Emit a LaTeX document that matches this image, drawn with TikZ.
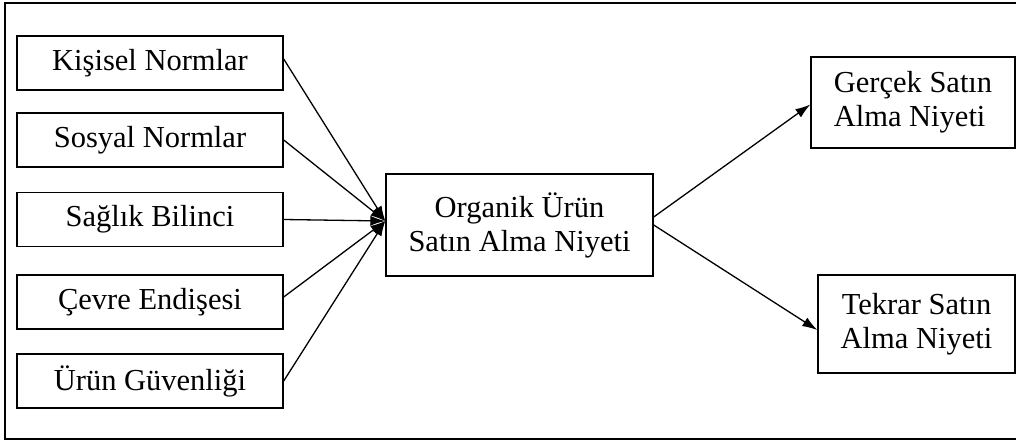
\documentclass[tikz,border=0pt]{standalone}
\usepackage{fontspec}
\setmainfont{Liberation Serif}
\usetikzlibrary{arrows.meta,calc}
\tikzset{
  box/.style={draw, line width=1.4pt, rectangle, inner sep=0pt, font=\fontsize{30.5}{34}\selectfont},
  conn/.style={line width=1.3pt, -{Latex[length=15pt,width=10pt]}}
}
\begin{document}
\begin{tikzpicture}[x=1pt,y=-1pt]
\useasboundingbox (0,0) rectangle (1016,442);
\clip (0,0) rectangle (1016,442);
\draw[line width=1.3pt] (5,3) rectangle (1030,439);
% left boxes
\node[box, minimum width=266pt, minimum height=54pt] (k) at (150,63) {Kişisel Normlar};
\node[box, minimum width=266pt, minimum height=54pt] (s) at (150,140) {Sosyal Normlar};
\node[box, minimum width=266pt, minimum height=54pt] (b) at (150,219.5) {Sağlık Bilinci};
\node[box, minimum width=266pt, minimum height=54pt] (e) at (150,302) {Çevre Endişesi};
\node[box, minimum width=266pt, minimum height=54pt] (u) at (150,381) {Ürün Güvenliği};
% center
\node[box, minimum width=267pt, minimum height=102pt, align=center] (c) at (519.5,225) {Organik Ürün\\Satın Alma Niyeti};
\coordinate (cin) at ($(c.west)+(0,-4)$);
% right
\node[box, minimum width=204pt, minimum height=91pt, align=left] (g) at (913,102.5) {Gerçek Satın\\Alma Niyeti};
\node[box, minimum width=197pt, minimum height=98pt, align=center] (t) at (916.5,324) {Tekrar Satın\\Alma Niyeti};
% arrows
\draw[conn] ($(k.east)+(0,-4)$) -- (cin);
\draw[conn] (s.east) -- (cin);
\draw[conn] (b.east) -- (cin);
\draw[conn] ($(e.east)+(0,-5)$) -- (cin);
\draw[conn] (u.east) -- (cin);
\draw[conn] ($(c.east)+(0,-8)$) -- ($(g.west)+(0,2)$);
\draw[conn] (c.east) -- ($(t.west)+(0,6)$);
\end{tikzpicture}
\end{document}
